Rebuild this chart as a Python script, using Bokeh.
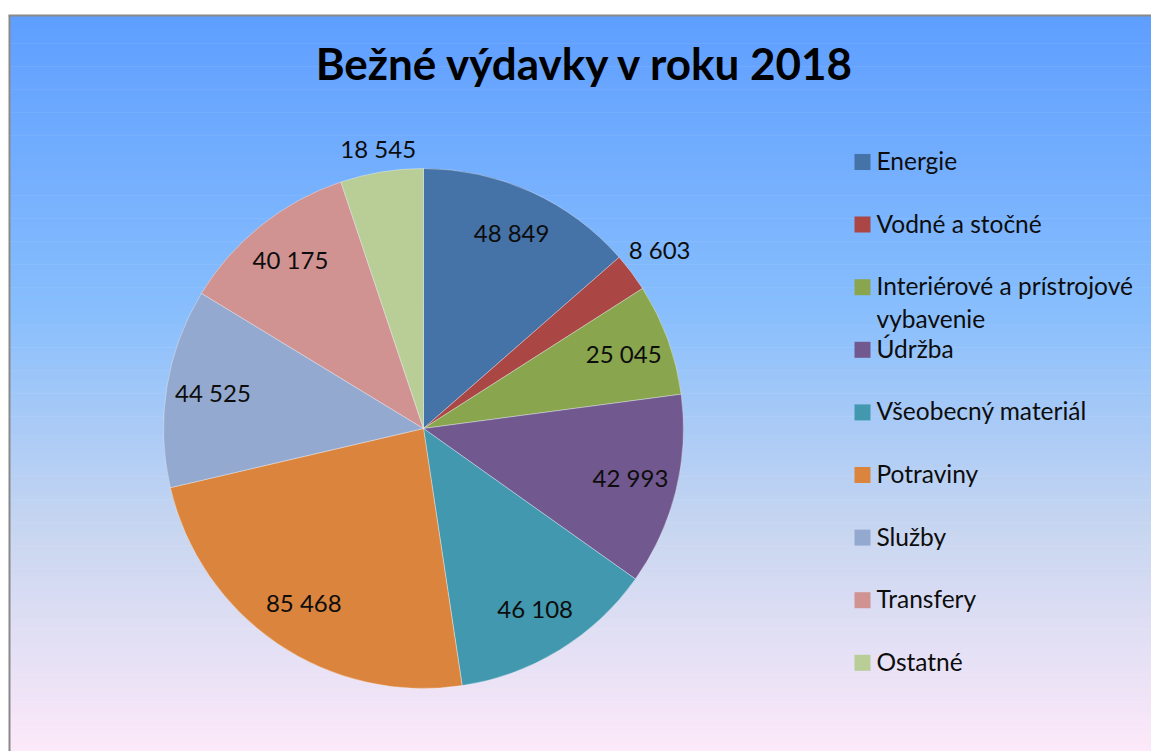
import math
import textwrap
from bokeh.plotting import figure
from bokeh.models import Range1d, ColumnDataSource
from bokeh.embed import file_html
from bokeh.resources import INLINE
from bokeh.core.properties import value

# ---------------- data ----------------
title = "Bežné výdavky v roku 2018"
categories = ["Energie", "Vodné a stočné", "Interiérové a prístrojové vybavenie",
              "Údržba", "Všeobecný materiál", "Potraviny", "Služby",
              "Transfery", "Ostatné"]
values = [48849, 8603, 25045, 42993, 46108, 85468, 44525, 40175, 18545]
colors = ["#4572A7", "#AA4643", "#89A54E", "#71588F", "#4198AF",
          "#DB843D", "#93A9CF", "#D19392", "#B9CD96"]

# ---------------- layout helpers (page pixels -> data units) ----------------
W, H = 1151, 751
def X(px):
    return px
def Y(py):
    return H - py

p = figure(width=W, height=H, x_range=Range1d(0, W), y_range=Range1d(0, H),
           output_backend="svg", toolbar_location=None, min_border=0,
           sizing_mode="fixed")
p.axis.visible = False
p.grid.visible = False
p.outline_line_color = None
p.background_fill_color = "white"
p.border_fill_color = "white"

# ---------------- gradient background ----------------
stops = [(0.0, (94, 158, 255)), (0.40, (136, 190, 253)),
         (0.70, (200, 214, 240)), (1.0, (253, 233, 249))]
def grad(t):
    for (t0, c0), (t1, c1) in zip(stops[:-1], stops[1:]):
        if t <= t1:
            f = (t - t0) / (t1 - t0)
            return "#%02x%02x%02x" % tuple(int(round(a + (b - a) * f)) for a, b in zip(c0, c1))
    return "#%02x%02x%02x" % stops[-1][1]

top_py, bot_py = 15, 752
n = 160
bh = (bot_py - top_py) / n
lefts, rights, tops, bottoms, gcols = [], [], [], [], []
for i in range(n):
    t0 = top_py + i * bh
    lefts.append(X(9)); rights.append(W)
    tops.append(Y(t0)); bottoms.append(Y(t0 + bh + 0.6))
    gcols.append(grad((i + 0.5) / n))
p.quad(left=lefts, right=rights, top=tops, bottom=bottoms,
       fill_color=gcols, line_color=None)

# frame border (left and top)
p.segment(x0=[X(9), X(8)], y0=[Y(15), Y(15)], x1=[X(9), W], y1=[Y(751), Y(15)],
          line_color="#898989", line_width=2)

# ---------------- pie ----------------
cx, cy, R = X(423), Y(428), 260
total = float(sum(values))
starts, ends, mids = [], [], []
acc = 0.0
for v in values:
    a0 = acc / total * 2 * math.pi
    acc += v
    a1 = acc / total * 2 * math.pi
    # clockwise from 12 o'clock -> bokeh counter-clockwise from +x
    starts.append(math.pi / 2 - a1)
    ends.append(math.pi / 2 - a0)
    mids.append((a0 + a1) / 2)

src = ColumnDataSource(dict(start=starts, end=ends, color=colors, name=categories))
p.wedge(x=cx, y=cy, radius=R, start_angle="start", end_angle="end",
        fill_color="color", line_color="white", line_alpha=0.35, line_width=1,
        source=src)

# data labels
lx, ly, ltxt = [], [], []
for v, m in zip(values, mids):
    txt = "{:,}".format(v).replace(",", " ")
    s, c = math.sin(m), math.cos(m)
    if v / total > 0.06:
        r = 0.82 * R
    else:
        r = R + 6 + abs(s) * 5.8 * len(txt) + abs(c) * 10
    lx.append(cx + r * s)
    ly.append(cy + r * c + 2)
    ltxt.append(txt)
p.text(x=lx, y=ly, text=ltxt, text_align="center", text_baseline="middle",
       text_font=value("Lato"), text_font_size="24px", text_color="#0d0d0d")

# ---------------- legend ----------------
row0, step = 161.5, 62.6
sq_x, sq_y, tx, ty, tt = [], [], [], [], []
for i, (name, col) in enumerate(zip(categories, colors)):
    ry = row0 + i * step
    sq_x.append(X(862)); sq_y.append(Y(ry))
    for k, line in enumerate(textwrap.wrap(name, 26)):
        tx.append(X(876)); ty.append(Y(ry - 1.5 + 33 * k)); tt.append(line)
p.rect(x=sq_x, y=sq_y, width=16, height=16, fill_color=colors, line_color=None)
p.text(x=tx, y=ty, text=tt, text_align="left", text_baseline="middle",
       text_font=value("Lato"), text_font_size="24.5px", text_color="#0d0d0d")

# ---------------- title ----------------
p.text(x=[X(585.5)], y=[Y(62)], text=[title], text_align="center",
       text_baseline="middle", text_font=value("Lato"), text_font_size="44px",
       text_font_style="bold", text_color="#000000")

open("out.html", "w").write(file_html(p, INLINE))
